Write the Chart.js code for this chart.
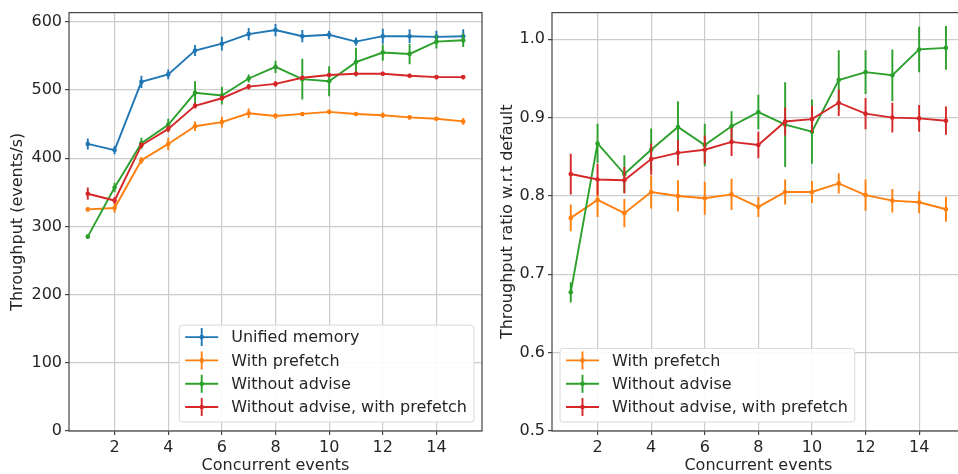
<!DOCTYPE html>
<html>
<head>
<meta charset="utf-8">
<script src="https://cdn.jsdelivr.net/npm/chart.js@4"></script>
<style>
  html, body { margin: 0; padding: 0; background: #fff; overflow: hidden; width: 958px; height: 474px; }
  #left { position: absolute; left: 0; top: 0; }
  #right { position: absolute; left: 490px; top: 0; }
</style>
</head>
<body>
<canvas id="left" width="490" height="474"></canvas>
<canvas id="right" width="480" height="474"></canvas>
<script>
// concurrent events (x axis)
const events = [1, 2, 3, 4, 5, 6, 7, 8, 9, 10, 11, 12, 13, 14, 15];
const xTicks = [2, 4, 6, 8, 10, 12, 14];

// left: throughput (events/s)
const unifiedMemory    = [421, 412, 512, 523, 558, 568, 582, 588, 579, 581, 571, 579, 579, 578, 579];
const unifiedMemoryErr = [8, 6, 9, 7, 8, 10, 9, 9, 9, 6, 6, 11, 10, 9, 10];
const withPrefetch     = [325, 327, 397, 421, 447, 453, 466, 462, 465, 468, 465, 463, 460, 458, 454];
const withPrefetchErr  = [3, 7, 5, 9, 7, 8, 7, 4, 3, 3, 3, 4, 3, 3, 5];
const noAdvise         = [285, 357, 422, 449, 496, 492, 517, 534, 516, 513, 541, 555, 553, 571, 573];
const noAdviseErr      = [3, 7, 8, 9, 17, 13, 6, 9, 30, 22, 21, 12, 15, 10, 10];
const noAdvisePrefetch    = [348, 338, 419, 443, 477, 488, 505, 509, 518, 522, 524, 524, 521, 519, 519];
const noAdvisePrefetchErr = [9, 5, 4, 5, 4, 4, 4, 4, 3, 3, 3, 3, 3, 3, 3];
const leftYTicks = [0, 100, 200, 300, 400, 500, 600];

// right: throughput ratio w.r.t default
const ratioPrefetch       = [0.772, 0.795, 0.778, 0.805, 0.800, 0.797, 0.802, 0.786, 0.805, 0.805, 0.816, 0.801, 0.794, 0.792, 0.783];
const ratioPrefetchErr    = [0.017, 0.022, 0.018, 0.021, 0.020, 0.021, 0.020, 0.013, 0.016, 0.014, 0.013, 0.020, 0.015, 0.014, 0.016];
const ratioNoAdvise       = [0.677, 0.867, 0.828, 0.859, 0.888, 0.865, 0.889, 0.907, 0.891, 0.882, 0.948, 0.958, 0.954, 0.987, 0.989];
const ratioNoAdviseErr    = [0.013, 0.025, 0.024, 0.027, 0.033, 0.027, 0.019, 0.022, 0.054, 0.041, 0.038, 0.028, 0.033, 0.029, 0.028];
const ratioNoAdvisePre    = [0.828, 0.821, 0.820, 0.847, 0.855, 0.859, 0.869, 0.865, 0.895, 0.898, 0.919, 0.905, 0.900, 0.899, 0.896];
const ratioNoAdvisePreErr = [0.026, 0.020, 0.017, 0.020, 0.016, 0.018, 0.018, 0.017, 0.018, 0.017, 0.017, 0.020, 0.019, 0.017, 0.018];
const rightYTicks = [0.5, 0.6, 0.7, 0.8, 0.9, 1.0];

const BLUE = "#1f77b4", ORANGE = "#ff7f0e", GREEN = "#2ca02c", RED = "#d62728";
const FONT = "'DejaVu Sans', sans-serif";
const TEXT = "#262626";
const GRID = "#cccccc";
const SPINE = "#444";

Chart.defaults.font.family = FONT;
Chart.defaults.font.size = 16;
Chart.defaults.color = TEXT;

function series(label, color, vals, errs, idx) {
  return {
    label: label,
    data: events.map((x, i) => ({ x: x, y: vals[i] })),
    errors: errs,
    borderColor: color,
    backgroundColor: color,
    borderWidth: 1.9,
    pointRadius: 2.3,
    pointHoverRadius: 2.3,
    pointBorderWidth: 0,
    tension: 0,
    order: 10 - idx,
  };
}

// error bars drawn right before each dataset's line, like matplotlib
const errorBars = {
  id: "errorBars",
  beforeDatasetDraw(chart, args) {
    const ds = chart.data.datasets[args.index];
    const xs = chart.scales.x, ys = chart.scales.y;
    const ctx = chart.ctx, a = chart.chartArea;
    ctx.save();
    ctx.beginPath();
    ctx.rect(a.left, a.top, a.right - a.left, a.bottom - a.top);
    ctx.clip();
    ctx.strokeStyle = ds.borderColor;
    ctx.lineWidth = 1.9;
    ds.data.forEach((p, i) => {
      const px = xs.getPixelForValue(p.x);
      ctx.beginPath();
      ctx.moveTo(px, ys.getPixelForValue(p.y - ds.errors[i]));
      ctx.lineTo(px, ys.getPixelForValue(p.y + ds.errors[i]));
      ctx.stroke();
    });
    ctx.restore();
  },
};

// frame + legend box
const frameLegend = {
  id: "frameLegend",
  afterDatasetsDraw(chart, args, opts) {
    const ctx = chart.ctx, a = chart.chartArea;
    ctx.save();
    ctx.strokeStyle = SPINE;
    ctx.lineWidth = 1.2;
    ctx.strokeRect(a.left, a.top, a.right - a.left, a.bottom - a.top);

    const sets = chart.data.datasets;
    ctx.font = "16px " + FONT;
    let tw = 0;
    sets.forEach(d => { tw = Math.max(tw, ctx.measureText(d.label).width); });
    const rowH = 23.3;
    const w = 6 + 33 + 13 + tw + 7;
    const h = 12 + rowH * (sets.length - 1) + 15;
    const left = opts.corner === "right" ? a.right - 8 - w : a.left + 8;
    const top = a.bottom - 9 - h;
    ctx.fillStyle = "rgba(255,255,255,0.9)";
    ctx.strokeStyle = "#d8d8d8";
    ctx.lineWidth = 1;
    ctx.beginPath();
    ctx.roundRect(left, top, w, h, 3);
    ctx.fill();
    ctx.stroke();
    sets.forEach((d, i) => {
      const cy = top + 12 + rowH * i;
      const hx = left + 6;
      ctx.strokeStyle = d.borderColor;
      ctx.lineWidth = 1.9;
      ctx.beginPath();
      ctx.moveTo(hx, cy);
      ctx.lineTo(hx + 33, cy);
      ctx.moveTo(hx + 16.5, cy - 9);
      ctx.lineTo(hx + 16.5, cy + 9);
      ctx.stroke();
      ctx.fillStyle = d.borderColor;
      ctx.beginPath();
      ctx.arc(hx + 16.5, cy, 2.3, 0, Math.PI * 2);
      ctx.fill();
      ctx.fillStyle = TEXT;
      ctx.textBaseline = "middle";
      ctx.textAlign = "left";
      ctx.fillText(d.label, hx + 33 + 13, cy + 1);
    });
    ctx.restore();
  },
};

function makeChart(id, datasets, yMin, yMax, yTicks, yTitle, yWidth, padRight, corner, fmt) {
  return new Chart(document.getElementById(id), {
    type: "line",
    data: { datasets: datasets },
    plugins: [errorBars, frameLegend],
    options: {
      responsive: false,
      animation: false,
      layout: { padding: { top: 11, right: padRight, left: 0, bottom: 0 } },
      plugins: {
        legend: { display: false },
        tooltip: { enabled: false },
        frameLegend: { corner: corner },
      },
      scales: {
        x: {
          type: "linear",
          min: 0.3,
          max: 15.7,
          afterBuildTicks: (s) => { s.ticks = xTicks.map(v => ({ value: v })); },
          afterFit: (s) => { s.height = 43; },
          ticks: { padding: 3, maxRotation: 0, color: TEXT },
          grid: { color: GRID, lineWidth: 1.2, tickLength: 4, tickColor: SPINE, tickWidth: 1.2 },
          border: { display: false },
          title: { display: true, text: "Concurrent events", padding: { top: 0, bottom: -1 }, color: TEXT },
        },
        y: {
          min: yMin,
          max: yMax,
          afterBuildTicks: (s) => { s.ticks = yTicks.map(v => ({ value: v })); },
          afterFit: (s) => { s.width = yWidth; },
          ticks: { padding: 3, color: TEXT, callback: fmt },
          grid: { color: GRID, lineWidth: 1.2, tickLength: 4, tickColor: SPINE, tickWidth: 1.2 },
          border: { display: false },
          title: { display: true, text: yTitle, padding: { top: 8, bottom: 0 }, color: TEXT },
        },
      },
    },
  });
}

makeChart("left", [
  series("Unified memory", BLUE, unifiedMemory, unifiedMemoryErr, 0),
  series("With prefetch", ORANGE, withPrefetch, withPrefetchErr, 1),
  series("Without advise", GREEN, noAdvise, noAdviseErr, 2),
  series("Without advise, with prefetch", RED, noAdvisePrefetch, noAdvisePrefetchErr, 3),
], 0, 613.6, leftYTicks, "Throughput (events/s)", 69, 8, "right", (v) => String(v));

makeChart("right", [
  series("With prefetch", ORANGE, ratioPrefetch, ratioPrefetchErr, 0),
  series("Without advise", GREEN, ratioNoAdvise, ratioNoAdviseErr, 1),
  series("Without advise, with prefetch", RED, ratioNoAdvisePre, ratioNoAdvisePreErr, 2),
], 0.5, 1.034, rightYTicks, "Throughput ratio w.r.t default", 62, 5.3, "left", (v) => v.toFixed(1));
</script>
</body>
</html>
